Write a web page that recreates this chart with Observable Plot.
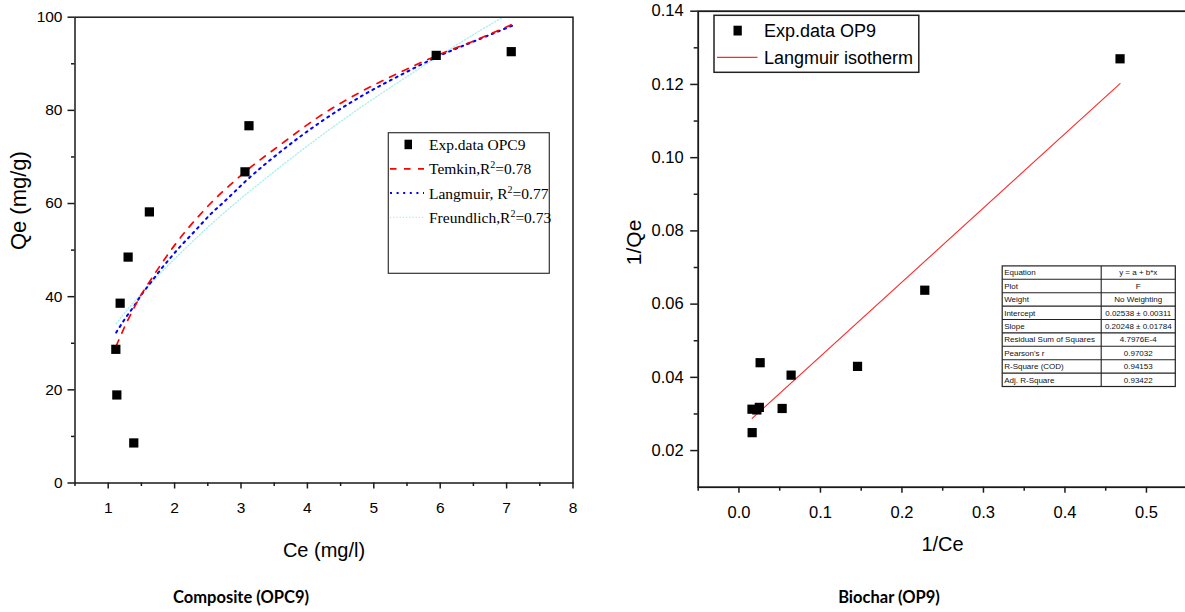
<!DOCTYPE html>
<html>
<head>
<meta charset="utf-8">
<script src="https://cdn.jsdelivr.net/npm/d3@7"></script>
<script src="https://cdn.jsdelivr.net/npm/@observablehq/plot@0.6"></script>
<style>
  html, body { margin: 0; padding: 0; background: #fff; overflow: hidden; }
  #wrap { position: relative; width: 1185px; height: 612px; overflow: hidden; background: #fff; }
  .cap { position: absolute; top: 587px; width: 300px; text-align: center;
         font-family: Lato, "Open Sans", sans-serif; font-weight: bold; font-size: 16.5px; color: #000; }
</style>
</head>
<body>
<div id="wrap"></div>
<script>
// ---------- Left chart: Composite (OPC9) ----------
const ceExp = [1.115, 1.13, 1.18, 1.30, 1.385, 1.62, 3.06, 3.12, 5.94, 7.07];
const qeExp = [28.7, 18.9, 38.6, 48.5, 8.6, 58.2, 66.8, 76.7, 91.8, 92.6];

const ceTemkin = [1.12, 1.25, 1.36, 1.48, 1.64, 1.77, 1.90, 2.04, 2.21, 2.37, 2.54, 2.72, 2.90, 3.07, 3.62, 4.17, 4.77, 5.34, 5.99, 6.54, 7.09];
const qeTemkin = [29.4, 33.6, 36.8, 40.0, 43.6, 46.4, 49.1, 51.8, 54.8, 57.4, 60.0, 62.5, 64.8, 66.9, 72.9, 78.6, 83.7, 87.8, 92.0, 95.1, 98.5];

const ceLangmuir = [1.12, 1.25, 1.38, 1.51, 1.65, 1.79, 1.94, 2.08, 2.24, 2.39, 2.54, 2.71, 2.88, 3.04, 3.62, 4.24, 4.82, 5.42, 5.94, 6.54, 7.09];
const qeLangmuir = [32.3, 35.2, 37.8, 40.6, 43.2, 45.8, 48.4, 50.7, 53.1, 55.4, 57.7, 59.9, 62.2, 64.4, 71.4, 77.9, 83.1, 87.7, 91.4, 95.0, 98.2];

const ceFreundlich = [1.12, 1.3, 1.5, 1.75, 2.0, 2.5, 3.0, 3.38, 3.62, 4.24, 4.82, 5.42, 5.94, 6.54, 6.93];
const qeFreundlich = [34.2, 37.4, 40.6, 44.5, 48.1, 54.9, 61.1, 65.5, 68.2, 74.9, 80.8, 86.5, 91.3, 96.6, 99.9];

const leftXTicks = [1, 2, 3, 4, 5, 6, 7, 8];
const leftXMinor = [0.5, 1.5, 2.5, 3.5, 4.5, 5.5, 6.5, 7.5];
const leftYTicks = [0, 20, 40, 60, 80, 100];
const leftYMinor = [10, 30, 50, 70, 90];

const leftLegend = [
  {kind: "square", pre: "Exp.data OPC9", sup: "", post: ""},
  {kind: "temkin", pre: "Temkin,R", sup: "2", post: "=0.78"},
  {kind: "langmuir", pre: "Langmuir, R", sup: "2", post: "=0.77"},
  {kind: "freundlich", pre: "Freundlich,R", sup: "2", post: "=0.73"}
];

// ---------- Right chart: Biochar (OP9) ----------
const invCe = [0.0162, 0.016, 0.022, 0.025, 0.026, 0.053, 0.064, 0.1455, 0.228, 0.4676];
const invQe = [0.0249, 0.0313, 0.0311, 0.0318, 0.0440, 0.0315, 0.0406, 0.0430, 0.0638, 0.1270];

const fitX = [0.0162, 0.4676];
const fitY = [0.0288, 0.1202];

const rightXTicks = [0, 0.1, 0.2, 0.3, 0.4, 0.5];
const rightXMinor = [-0.05, 0.05, 0.15, 0.25, 0.35, 0.45, 0.55];
const rightYTicks = [0.02, 0.04, 0.06, 0.08, 0.10, 0.12, 0.14];
const rightYMinor = [0.03, 0.05, 0.07, 0.09, 0.11, 0.13];

const rightLegend = ["Exp.data OP9", "Langmuir isotherm"];

const tableLabels = ["Equation", "Plot", "Weight", "Intercept", "Slope", "Residual Sum of Squares", "Pearson's r", "R-Square (COD)", "Adj. R-Square"];
const tableValues = ["y = a + b*x", "F", "No Weighting", "0.02538 \u00b1 0.00311", "0.20248 \u00b1 0.01784", "4.7976E-4", "0.97032", "0.94153", "0.93422"];

const captions = ["Composite (OPC9)", "Biochar (OP9)"];

// ---------- drawing ----------
const wrap = document.getElementById("wrap");
const AX = "#1a1a1a";
const sansFont = "'Liberation Sans', Arial, sans-serif";
const serifFont = "'Liberation Serif', 'Times New Roman', serif";

const left = Plot.plot({
  width: 600, height: 580,
  marginLeft: 74.5, marginRight: 27.5, marginTop: 16.7, marginBottom: 97.5,
  x: {domain: [0.5, 8]},
  y: {domain: [0, 100]},
  style: {fontFamily: sansFont, fontSize: "15.5px", color: "#000", background: "transparent", overflow: "visible"},
  marks: [
    Plot.line(ceFreundlich, {x: ceFreundlich, y: qeFreundlich, stroke: "#a8eeee", strokeWidth: 1.3, strokeDasharray: "1.2,2", curve: "monotone-x", clip: true}),
    Plot.line(ceLangmuir, {x: ceLangmuir, y: qeLangmuir, stroke: "#0000ff", strokeWidth: 2, strokeDasharray: "2,4.6", curve: "monotone-x"}),
    Plot.line(ceTemkin, {x: ceTemkin, y: qeTemkin, stroke: "#ff0000", strokeWidth: 1.7, strokeDasharray: "6.5,7.5", curve: "monotone-x"}),
    Plot.dot(ceExp, {x: ceExp, y: qeExp, symbol: "square", r: 5.2, fill: "#000", stroke: null}),
    Plot.frame({stroke: AX, strokeWidth: 1.5}),
    Plot.axisX({ticks: leftXTicks, tickSize: 6, tickPadding: 12.5, tickFormat: d => String(d), label: null, stroke: AX, strokeWidth: 1.5, strokeOpacity: 1}),
    Plot.axisX({ticks: leftXMinor, tickSize: 3.5, tickFormat: () => "", label: null, stroke: AX, strokeWidth: 1.5, strokeOpacity: 1}),
    Plot.axisY({ticks: leftYTicks, tickSize: 7, tickPadding: 5.5, tickFormat: d => String(d), label: null, stroke: AX, strokeWidth: 1.5, strokeOpacity: 1}),
    Plot.axisY({ticks: leftYMinor, tickSize: 3.5, tickFormat: () => "", label: null, stroke: AX, strokeWidth: 1.5, strokeOpacity: 1}),
    Plot.text(["Ce (mg/l)"], {frameAnchor: "bottom", dy: 74, fontSize: 20, fill: "#000"}),
    Plot.text(["Qe (mg/g)"], {frameAnchor: "left", dx: -56, rotate: -90, fontSize: 22, fill: "#000"})
  ]
});
left.style.position = "absolute";
left.style.left = "0px";
left.style.top = "0px";
wrap.appendChild(left);

// left legend
{
  const g = d3.select(left).append("g").attr("text-anchor", "start");
  g.append("rect").attr("x", 388.3).attr("y", 132.7).attr("width", 161).attr("height", 140.6)
    .attr("fill", "#fff").attr("stroke", "#333").attr("stroke-width", 1.2);
  leftLegend.forEach((e, i) => {
    const cy = 144.5 + i * 24.3;
    if (e.kind === "square") {
      g.append("rect").attr("x", 404.5).attr("y", cy - 4.8).attr("width", 7.5).attr("height", 9.5).attr("fill", "#000");
    } else if (e.kind === "temkin") {
      g.append("line").attr("x1", 390).attr("x2", 424).attr("y1", cy).attr("y2", cy)
        .attr("stroke", "#ff0000").attr("stroke-width", 1.7).attr("stroke-dasharray", "6.5,7.5");
    } else if (e.kind === "langmuir") {
      g.append("line").attr("x1", 390).attr("x2", 424).attr("y1", cy).attr("y2", cy)
        .attr("stroke", "#0000ff").attr("stroke-width", 2).attr("stroke-dasharray", "2,4.6");
    } else {
      g.append("line").attr("x1", 390).attr("x2", 424).attr("y1", cy).attr("y2", cy)
        .attr("stroke", "#a8eeee").attr("stroke-width", 1.3).attr("stroke-dasharray", "1.2,2");
    }
    const t = g.append("text").attr("x", 429).attr("y", cy).attr("dy", "0.35em").attr("text-anchor", "start")
      .attr("font-family", serifFont).attr("font-size", 15.5).attr("fill", "#000");
    t.append("tspan").text(e.pre);
    if (e.sup) {
      t.append("tspan").attr("dy", -6).attr("font-size", 10).text(e.sup);
      t.append("tspan").attr("dy", 6).text(e.post);
    }
  });
}

const right = Plot.plot({
  width: 600, height: 580,
  marginLeft: 97.7, marginRight: 13.3, marginTop: 10.7, marginBottom: 93.3,
  x: {domain: [-0.05, 0.55]},
  y: {domain: [0.01, 0.14]},
  style: {fontFamily: sansFont, fontSize: "16.5px", color: "#000", background: "transparent", overflow: "visible"},
  marks: [
    Plot.line(fitX, {x: fitX, y: fitY, stroke: "#ff2a2a", strokeWidth: 1.1}),
    Plot.dot(invCe, {x: invCe, y: invQe, symbol: "square", r: 5.2, fill: "#000", stroke: null}),
    Plot.frame({stroke: AX, strokeWidth: 1.8}),
    Plot.axisX({ticks: rightXTicks, tickSize: 6, tickPadding: 13, tickFormat: d3.format(".1f"), label: null, stroke: AX, strokeWidth: 1.5, strokeOpacity: 1}),
    Plot.axisX({ticks: rightXMinor, tickSize: 4, tickFormat: () => "", label: null, stroke: AX, strokeWidth: 1.5, strokeOpacity: 1}),
    Plot.axisY({ticks: rightYTicks, tickSize: 7.5, tickPadding: 7, tickFormat: d3.format(".2f"), label: null, stroke: AX, strokeWidth: 1.5, strokeOpacity: 1}),
    Plot.axisY({ticks: rightYMinor, tickSize: 4, tickFormat: () => "", label: null, stroke: AX, strokeWidth: 1.5, strokeOpacity: 1}),
    Plot.text(["1/Ce"], {frameAnchor: "bottom", dx: 342 - (97.7 + 586.7) / 2, dy: 64, fontSize: 20, fill: "#000"}),
    Plot.text(["1/Qe"], {frameAnchor: "left", dx: -63.7, dy: 16, rotate: -90, fontSize: 21, fill: "#000"})
  ]
});
right.style.position = "absolute";
right.style.left = "600px";
right.style.top = "0px";
wrap.appendChild(right);

// right legend and stats table (coords local to right svg: page x - 600)
{
  const g = d3.select(right).append("g").attr("text-anchor", "start");
  g.append("rect").attr("x", 114).attr("y", 15.3).attr("width", 204.8).attr("height", 57)
    .attr("fill", "#fff").attr("stroke", "#222").attr("stroke-width", 1.5);
  g.append("rect").attr("x", 133.5).attr("y", 30.6 - 4.9).attr("width", 8.3).attr("height", 9.8).attr("fill", "#000");
  g.append("line").attr("x1", 117).attr("x2", 157.5).attr("y1", 57.4).attr("y2", 57.4)
    .attr("stroke", "#ff2a2a").attr("stroke-width", 1.1);
  rightLegend.forEach((s, i) => {
    g.append("text").attr("x", 164).attr("y", i === 0 ? 30.6 : 57.4).attr("dy", "0.35em").attr("text-anchor", "start")
      .attr("font-family", sansFont).attr("font-size", 18).attr("fill", "#000").text(s);
  });

  const tx = 402.2, ty = 265.9, tw = 173.1, rowH = 13.4, colX = 501.2;
  const tg = g.append("g");
  tg.append("rect").attr("x", tx).attr("y", ty).attr("width", tw).attr("height", rowH * tableLabels.length)
    .attr("fill", "#fff").attr("stroke", "#222").attr("stroke-width", 1.2);
  tg.append("line").attr("x1", colX).attr("x2", colX).attr("y1", ty).attr("y2", ty + rowH * tableLabels.length)
    .attr("stroke", "#222").attr("stroke-width", 1.1);
  tableLabels.forEach((lab, i) => {
    const y0 = ty + i * rowH;
    if (i > 0) {
      tg.append("line").attr("x1", tx).attr("x2", tx + tw).attr("y1", y0).attr("y2", y0)
        .attr("stroke", "#222").attr("stroke-width", 1.1);
    }
    tg.append("text").attr("x", tx + 2).attr("y", y0 + rowH / 2).attr("dy", "0.35em").attr("text-anchor", "start")
      .attr("font-family", sansFont).attr("font-size", 8).attr("fill", "#111").text(lab);
    tg.append("text").attr("x", (colX + tx + tw) / 2).attr("y", y0 + rowH / 2).attr("dy", "0.35em")
      .attr("text-anchor", "middle")
      .attr("font-family", sansFont).attr("font-size", 8).attr("fill", "#111").text(tableValues[i]);
  });
}

// captions below the charts
const capCenters = [241, 889];
captions.forEach((c, i) => {
  const d = document.createElement("div");
  d.className = "cap";
  d.style.left = (capCenters[i] - 150) + "px";
  d.textContent = c;
  wrap.appendChild(d);
});
</script>
</body>
</html>
